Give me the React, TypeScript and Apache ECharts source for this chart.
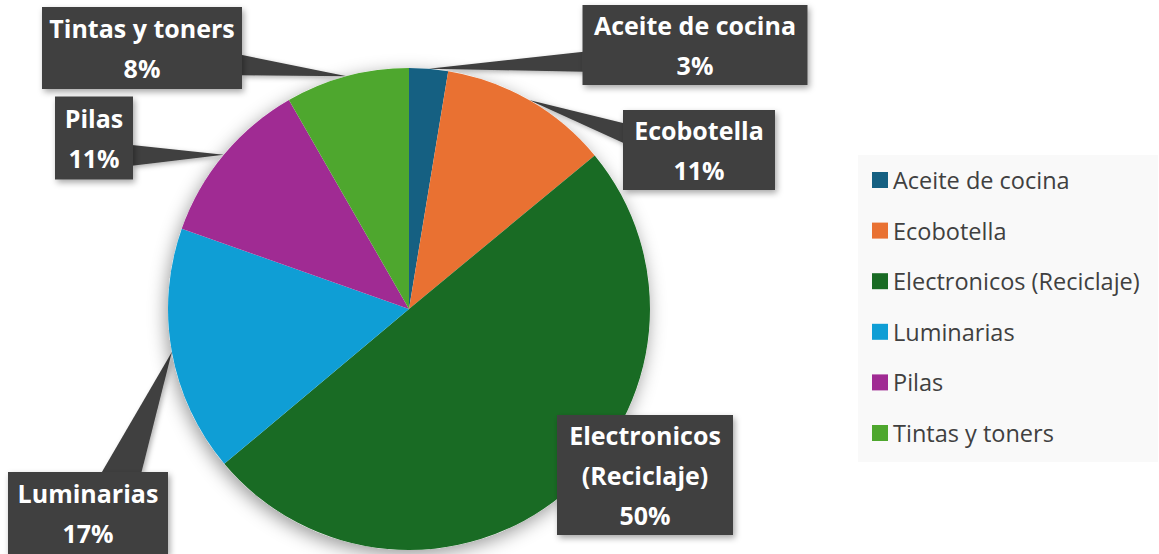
import React, { useEffect, useRef } from "react";
import * as echarts from "echarts";

const categories = [
  "Aceite de cocina",
  "Ecobotella",
  "Electronicos (Reciclaje)",
  "Luminarias",
  "Pilas",
  "Tintas y toners",
];
const values = [2.6, 11.4, 49.9, 16.5, 11.3, 8.3];
const colors = ["#156082", "#E97132", "#196B24", "#0F9ED5", "#A02B93", "#4EA72E"];

// callout layout (centre and size of each label box, px)
const labelCenters = [
  [695, 45],
  [699, 150],
  [645, 475],
  [88, 513],
  [94, 138],
  [142, 48],
];
const labelSizes = [
  [225, 80],
  [152, 80],
  [176, 120],
  [160, 82],
  [78, 83],
  [200, 82],
];

const LH = 40;
const BOX = "#404040";

function labelText(name: string, pct: number) {
  return name.replace(" (", "\n(") + "\n" + Math.round(pct) + "%";
}

export default function App() {
  const ref = useRef<HTMLDivElement>(null);
  useEffect(() => {
    if (!ref.current) return;
    const chart = echarts.init(ref.current, null, { renderer: "svg" });
    const data = categories.map((name, i) => {
      const lines = name.includes(" (") ? 3 : 2;
      const [w, h] = labelSizes[i];
      const pv = Math.max(0, (h - lines * LH) / 2);
      return {
        name,
        value: values[i],
        itemStyle: { color: colors[i] },
        label: { width: w, padding: [pv, 0, pv, 0] },
      };
    });
    chart.setOption({
      animation: false,
      backgroundColor: "#ffffff",
      legend: {
        orient: "vertical",
        left: 872,
        top: 167,
        padding: 0,
        data: categories,
        icon: "rect",
        itemWidth: 16,
        itemHeight: 16,
        itemGap: 24.6,
        textStyle: {
          fontFamily: "Open Sans",
          fontSize: 23.5,
          lineHeight: 26,
          color: "#404040",
        },
        selectedMode: false,
      },
      series: [
        {
          type: "pie",
          center: [409, 309],
          radius: 241,
          startAngle: 90,
          clockwise: true,
          avoidLabelOverlap: false,
          data,
          z: 2,
          itemStyle: { borderWidth: 0 },
          emphasis: { disabled: true },
          label: {
            show: true,
            position: "outside",
            formatter: (p: any) => labelText(p.name, p.percent),
            fontFamily: "Open Sans",
            fontWeight: "bold",
            fontSize: 25,
            lineHeight: LH,
            color: "#ffffff",
            align: "center",
            overflow: "none",
            backgroundColor: BOX,
            borderWidth: 0,
            shadowColor: "rgba(0,0,0,0.35)",
            shadowBlur: 6,
            shadowOffsetX: 2,
            shadowOffsetY: 3,
          },
          labelLine: { show: false },
          labelLayout: (params: any) => {
            const c = labelCenters[params.dataIndex];
            return { x: c[0], y: c[1], align: "center", verticalAlign: "middle" };
          },
        },
        {
          type: "pie",
          silent: true,
          center: [409, 309],
          radius: 241,
          z: 1,
          data: [{ value: 1, name: "__bg" }],
          label: { show: false },
          labelLine: { show: false },
          itemStyle: {
            color: "#ffffff",
            shadowBlur: 18,
            shadowColor: "rgba(0,0,0,0.4)",
            shadowOffsetX: -2,
            shadowOffsetY: 5,
          },
          emphasis: { disabled: true },
          tooltip: { show: false },
        },
      ],
    });

    // callout wedges derived from the pie layout
    const graphics: any[] = [
      {
        type: "rect",
        z: 0,
        silent: true,
        shape: { x: 858, y: 155, width: 300, height: 307 },
        style: { fill: "#f9f9f9" },
      },
    ];
    try {
      const sd = (chart as any).getModel().getSeriesByIndex(0).getData();
      for (let i = 0; i < categories.length; i++) {
        const lay = sd.getItemLayout(i);
        const mid = (lay.startAngle + lay.endAngle) / 2;
        const tx = lay.cx + lay.r * Math.cos(mid);
        const ty = lay.cy + lay.r * Math.sin(mid);
        const [lx, ly] = labelCenters[i];
        const [w, h] = labelSizes[i];
        const left = lx - w / 2, top = ly - h / 2;
        if (tx > left && tx < left + w && ty > top && ty < top + h) continue;
        const dx = tx - lx, dy = ty - ly;
        let p1: number[], p2: number[];
        if (Math.abs(dx) / w > Math.abs(dy) / h) {
          const ex = dx < 0 ? left + 1 : left + w - 1;
          const f = dy > 0 ? [7 / 12, 10 / 12] : [2 / 12, 5 / 12];
          p1 = [ex, top + h * f[0]];
          p2 = [ex, top + h * f[1]];
        } else {
          const ey = dy < 0 ? top + 1 : top + h - 1;
          const f = dx > 0 ? [7 / 12, 10 / 12] : [2 / 12, 5 / 12];
          p1 = [left + w * f[0], ey];
          p2 = [left + w * f[1], ey];
        }
        graphics.push({
          type: "polygon",
          z: 1,
          silent: true,
          shape: { points: [p1, [tx, ty], p2] },
          style: {
            fill: BOX,
            shadowColor: "rgba(0,0,0,0.3)",
            shadowBlur: 5,
            shadowOffsetX: 2,
            shadowOffsetY: 2,
          },
        });
      }
    } catch (e) {
      // ignore
    }
    chart.setOption({ graphic: graphics });
    return () => chart.dispose();
  }, []);
  return (
    <div
      ref={ref}
      style={{ position: "fixed", left: 0, top: 0, width: 1159, height: 554 }}
    />
  );
}
